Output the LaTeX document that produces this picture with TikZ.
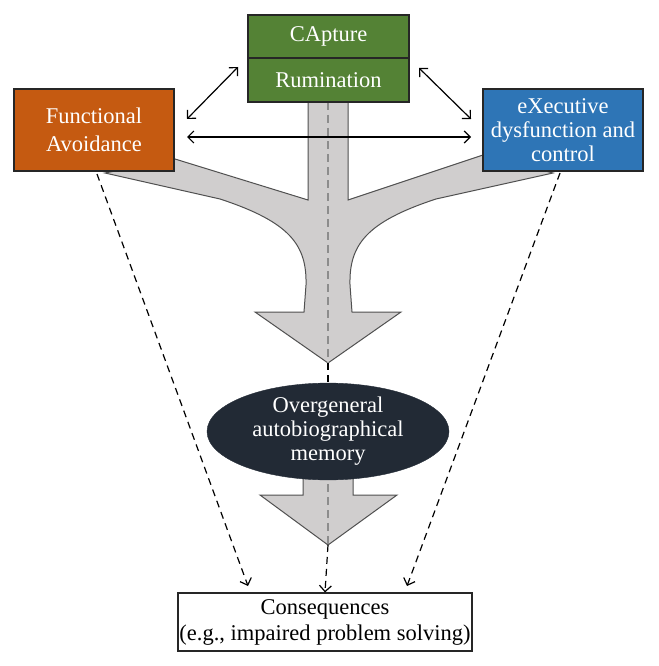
\documentclass[tikz,border=0pt]{standalone}
\usepackage{fontspec}
\setmainfont{Liberation Serif}
\usetikzlibrary{arrows.meta,shapes.geometric}
\definecolor{avoidcol}{HTML}{C55A11}
\definecolor{capcol}{HTML}{548235}
\definecolor{execcol}{HTML}{2E75B6}
\definecolor{ogmcol}{HTML}{222A35}
\definecolor{flowgrey}{HTML}{D0CECE}
\definecolor{flowline}{HTML}{505050}
\definecolor{dashgrey}{HTML}{8C8C8C}
\tikzset{
  box/.style={draw=black!85, line width=1.2pt, inner sep=0pt, text=white, align=center,
    font=\fontsize{22.5}{26}\selectfont},
  flow/.style={fill=flowgrey, draw=flowline, line width=1pt, line join=miter},
  link/.style={black, line width=1.2pt, {Straight Barb[length=6pt,width=12pt]}-{Straight Barb[length=6pt,width=12pt]}},
  dashlink/.style={black, line width=1.2pt, dash pattern=on 7pt off 5pt, -{Straight Barb[length=6pt,width=12pt]}},
  dashplain/.style={black, line width=1.2pt, dash pattern=on 7pt off 5pt},
  centre/.style={dashgrey, line width=1.4pt, dash pattern=on 8pt off 5pt},
}
\begin{document}
\begin{tikzpicture}[x=1pt,y=-1pt]
\useasboundingbox (0,0) rectangle (658,666);
% big grey flow arrow
\path[flow] (308,102) -- (308,200) -- (175,159) -- (105,173) -- (220,199)
  .. controls (290,222) and (307,245) .. (306,285) -- (304,312) -- (255,312)
  -- (328,363) -- (401,312) -- (352,312) -- (350,285)
  .. controls (349,245) and (366,222) .. (436,199) -- (553,173) -- (483,155)
  -- (348,200) -- (348,102) -- cycle;
% lower grey arrow
\path[flow] (303,460) -- (303,495) -- (260,495) -- (328,545) -- (397,495) -- (353,495) -- (353,460) -- cycle;
% centre dashed guide lines
\coordinate (topA) at (328,102);
\coordinate (tipA) at (328,363);
\coordinate (ogmBot) at (328,471);
\coordinate (tipB) at (328,545);
\draw[centre] (topA) -- (tipA);
\draw[centre] (ogmBot) -- (tipB);
% boxes
\node[box, fill=capcol, minimum width=161pt, minimum height=43pt] (cap) at (328.5,36.5) {CApture};
\node[box, fill=capcol, minimum width=161pt, minimum height=44pt] (rum) at (328.5,80) {Rumination};
\node[box, fill=avoidcol, minimum width=160pt, minimum height=82pt] (avoid) at (94,130) {Functional\\[2pt]Avoidance};
\node[box, fill=execcol, minimum width=160pt, minimum height=82pt, font=\fontsize{22.5}{24}\selectfont] (exec) at (563,130) {eXecutive\\dysfunction and\\control};
\node[ellipse, fill=ogmcol, draw=ogmcol, minimum width=242pt, minimum height=80pt, inner sep=0pt, text=white, align=center, font=\fontsize{22.5}{24}\selectfont] (ogm) at (328,431.5) {Overgeneral\\autobiographical\\memory};
\node[box, fill=white, text=black, minimum width=294pt, minimum height=58pt] (cons) at (325,622) {Consequences\\(e.g., impaired problem solving)};
% inter-box arrows
\coordinate (a1) at (238,67);
\coordinate (a2) at (187,119);
\coordinate (b1) at (419,68);
\coordinate (b2) at (471,119);
\coordinate (h1) at (187,137);
\coordinate (h2) at (471,137);
\draw[link] (a1) -- (a2);
\draw[link] (b1) -- (b2);
\draw[link] (h1) -- (h2);
% dashed arrows to consequences
\coordinate (ls) at (97,174);
\coordinate (le) at (248,586);
\coordinate (rs) at (560,173);
\coordinate (re) at (407,586);
\draw[dashlink] (ls) -- (le);
\draw[dashlink] (rs) -- (re);
\draw[dashplain] (tipA) -- (ogm.north);
\draw[dashlink] (tipB) -- (cons.north);
\end{tikzpicture}
\end{document}
